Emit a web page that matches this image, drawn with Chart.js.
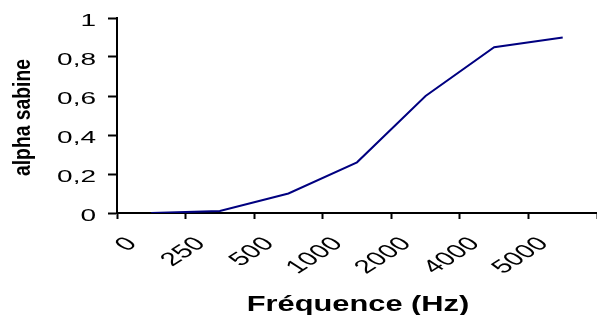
<!DOCTYPE html>
<html>
<head>
<meta charset="utf-8">
<script src="https://cdn.jsdelivr.net/npm/chart.js@4.4.1/dist/chart.umd.min.js"></script>
<style>
  html, body { margin: 0; padding: 0; background: #fff; }
  #wrap { width: 597px; height: 315px; }
</style>
</head>
<body>
<div id="wrap"><canvas id="myChart"></canvas></div>
<script>
// data
let frequencies = ['0', '250', '500', '1000', '2000', '4000', '5000'];
let alphaSabine = [0.0, 0.01, 0.10, 0.26, 0.60, 0.85, 0.90];
let yTickValues = [0, 0.2, 0.4, 0.6, 0.8, 1];
let xTitle = 'Fréquence (Hz)';
let yTitle = 'alpha sabine';

// the original picture is stretched sideways, so text is drawn here with a
// horizontal scale; positions still come from the chart's own scales
let stretchedText = {
  id: 'stretchedText',
  afterDraw: (chart) => {
    let ctx = chart.ctx;
    let xs = chart.scales.x;
    let ys = chart.scales.y;
    let area = chart.chartArea;
    ctx.save();
    ctx.fillStyle = '#000';
    ctx.textBaseline = 'alphabetic';

    // y tick labels
    ctx.font = '16px "Liberation Sans", Arial, sans-serif';
    ctx.textAlign = 'right';
    ys.ticks.forEach((t, i) => {
      ctx.save();
      ctx.translate(ys.right - 21, ys.getPixelForTick(i) + 8);
      ctx.scale(1.75, 1);
      ctx.fillText(t.label, 0, 0);
      ctx.restore();
    });

    // x tick labels, slanted
    ctx.font = '19px "Liberation Sans", Arial, sans-serif';
    xs.ticks.forEach((t, i) => {
      ctx.save();
      ctx.translate(xs.getPixelForTick(i) - 28, xs.top + 22);
      ctx.scale(1.55, 1);
      ctx.rotate(-Math.PI / 4);
      ctx.fillText(t.label, 0, 13.5);
      ctx.restore();
    });

    // x title
    ctx.textAlign = 'center';
    ctx.font = 'bold 22px "Liberation Sans", Arial, sans-serif';
    ctx.save();
    ctx.translate((area.left + area.right) / 2 + 1, 311);
    ctx.scale(1.4, 1);
    ctx.fillText(xTitle, 0, 0);
    ctx.restore();

    // y title
    ctx.font = 'bold 21px "Liberation Sans", Arial, sans-serif';
    ctx.translate(30, (area.top + area.bottom) / 2 + 2);
    ctx.rotate(-Math.PI / 2);
    ctx.scale(0.92, 1.12);
    ctx.fillText(yTitle, 0, 0);
    ctx.restore();
  }
};

var ctx = document.getElementById('myChart').getContext('2d');
var myChart = new Chart(ctx, {
  type: 'line',
  data: {
    labels: frequencies,
    datasets: [{
      data: alphaSabine,
      borderColor: '#000080',
      borderWidth: 2,
      pointRadius: 0,
      tension: 0,
      fill: false
    }]
  },
  options: {
    responsive: true,
    maintainAspectRatio: false,
    animation: false,
    layout: { padding: { top: 18, right: 0, left: 0, bottom: 0 } },
    plugins: {
      legend: { display: false },
      tooltip: { enabled: false }
    },
    scales: {
      x: {
        type: 'category',
        offset: true,
        grid: {
          offset: true,
          drawOnChartArea: false,
          tickLength: 6,
          tickWidth: 2,
          tickColor: '#000'
        },
        border: { color: '#000', width: 2 },
        ticks: { display: false, autoSkip: false },
        afterFit: (scale) => { scale.height = 102; }
      },
      y: {
        min: 0,
        max: 1,
        grid: {
          drawOnChartArea: false,
          tickLength: 9,
          tickWidth: 2,
          tickColor: '#000'
        },
        border: { color: '#000', width: 2 },
        afterBuildTicks: (scale) => {
          scale.ticks = yTickValues.map((v) => ({ value: v }));
        },
        ticks: {
          display: false,
          callback: (value) => String(value).replace('.', ',')
        },
        afterFit: (scale) => { scale.width = 117; }
      }
    }
  },
  plugins: [stretchedText]
});
</script>
</body>
</html>
